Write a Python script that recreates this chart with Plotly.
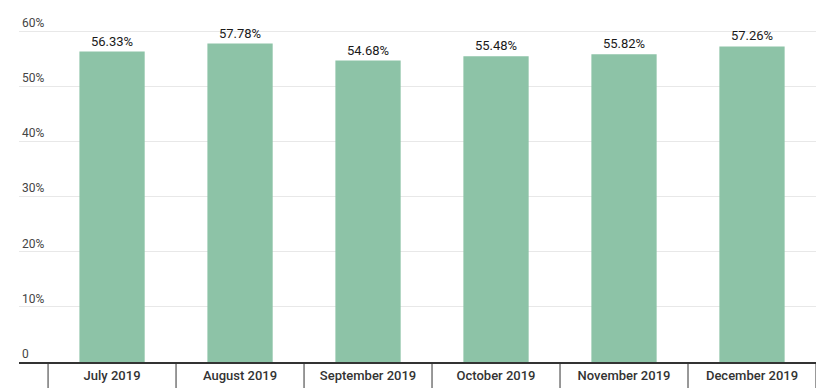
import plotly.graph_objects as go

categories = ["July 2019", "August 2019", "September 2019", "October 2019", "November 2019", "December 2019"]
values = [56.33, 57.78, 54.68, 55.48, 55.82, 57.26]
ytick_vals = [0, 10, 20, 30, 40, 50, 60]
ytick_text = ["0", "10%", "20%", "30%", "40%", "50%", "60%"]

# page body has an 8px default margin, so the figure is sized to the remaining view
W, H = 818, 380
ml, mr, mt, mb = 11, 10, 4, 26
plot_h = H - mt - mb

fig = go.Figure()
fig.add_trace(go.Bar(
    x=list(range(len(categories))),
    y=values,
    marker=dict(color="#8dc3a7", line=dict(width=0)),
    width=0.51,
    text=[f"{v:.2f}%" for v in values],
    textposition="outside",
    cliponaxis=False,
    textfont=dict(family="Roboto", size=13, color="#1a1a1a"),
    hoverinfo="skip",
))

shapes = []
for i in range(len(categories) + 1):
    shapes.append(dict(
        type="line", xref="x", yref="paper",
        x0=i - 0.5, x1=i - 0.5, y0=0, y1=-mb / plot_h,
        line=dict(color="#333333", width=1),
    ))

fig.update_layout(
    width=W, height=H,
    margin=dict(l=ml, r=mr, t=mt, b=mb, autoexpand=False),
    plot_bgcolor="white", paper_bgcolor="white",
    showlegend=False,
    shapes=shapes,
    bargap=0.49,
    xaxis=dict(
        range=[-0.727, len(categories) - 0.5],
        tickmode="array",
        tickvals=list(range(len(categories))),
        ticktext=categories,
        showgrid=False,
        ticks="",
        showline=True, linecolor="#333333", linewidth=2,
        tickfont=dict(family="Roboto", size=13, color="#333333", weight=500),
        automargin=False,
        fixedrange=True,
    ),
    yaxis=dict(
        range=[0, 63.5],
        tickmode="array",
        tickvals=ytick_vals,
        ticktext=ytick_text,
        ticklabelposition="inside top",
        showgrid=True, gridcolor="#e8e8e8", gridwidth=1,
        zeroline=False,
        showline=False,
        ticks="",
        tickfont=dict(family="Roboto", size=12, color="#444444"),
        automargin=False,
        fixedrange=True,
    ),
)

fig.write_html("out.html")
